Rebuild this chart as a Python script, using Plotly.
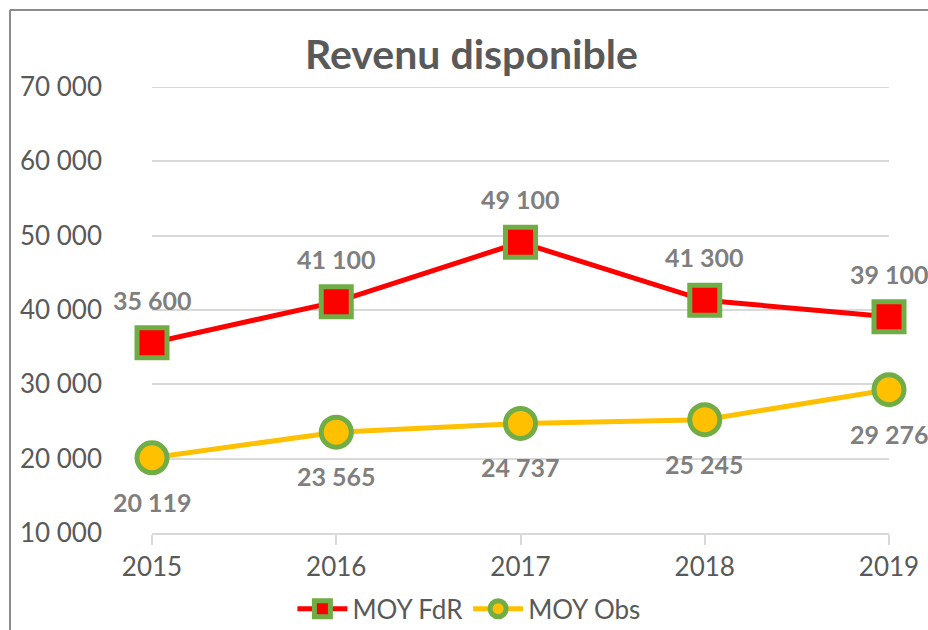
import plotly.graph_objects as go

years = [2015, 2016, 2017, 2018, 2019]
moy_fdr = [35600, 41100, 49100, 41300, 39100]
moy_obs = [20119, 23565, 24737, 25245, 29276]
y_ticks = [10000, 20000, 30000, 40000, 50000, 60000, 70000]
y_tick_labels = ["10 000", "20 000", "30 000", "40 000", "50 000", "60 000", "70 000"]

def fmt(v):
    return f"{v:,}".replace(",", " ")

FONT = "Lato, 'Open Sans', sans-serif"
GRAY = "#595959"
LABEL = "#7f7f7f"

fig = go.Figure()
fig.add_trace(go.Scatter(
    x=years, y=moy_fdr, name="MOY FdR", mode="lines+markers",
    line=dict(color="#FF0000", width=5),
    marker=dict(symbol="square", size=30, color="#FF0000",
                line=dict(color="#70AD47", width=5)),
    cliponaxis=False,
))
fig.add_trace(go.Scatter(
    x=years, y=moy_obs, name="MOY Obs", mode="lines+markers",
    line=dict(color="#FFC000", width=5),
    marker=dict(symbol="circle", size=30, color="#FFC000",
                line=dict(color="#70AD47", width=5)),
    cliponaxis=False,
))

for x, v in zip(years, moy_fdr):
    fig.add_annotation(x=x, y=v, text=f"<b>{fmt(v)}</b>", showarrow=False,
                       yshift=43, font=dict(family=FONT, size=25, color=LABEL))
for x, v in zip(years, moy_obs):
    fig.add_annotation(x=x, y=v, text=f"<b>{fmt(v)}</b>", showarrow=False,
                       yshift=-44, font=dict(family=FONT, size=25, color=LABEL))

fig.update_layout(
    width=928, height=630,
    margin=dict(l=152, r=39, t=87, b=97, autoexpand=False),
    paper_bgcolor="white", plot_bgcolor="white",
    title=dict(text="<b>Revenu disponible</b>", x=0.508, xanchor="center",
               y=0.913, yanchor="middle",
               font=dict(family=FONT, size=41, color=GRAY)),
    font=dict(family=FONT, color=GRAY),
    showlegend=True,
    legend=dict(orientation="h", x=0.43, xanchor="center", y=-0.17, yanchor="middle",
                font=dict(family=FONT, size=26, color=GRAY),
                itemwidth=50, tracegroupgap=0),
    xaxis=dict(range=[2015, 2019], tickmode="array", tickvals=years,
               ticktext=[str(y) for y in years], automargin=False,
               showgrid=False, zeroline=False,
               showline=True, linecolor="#d9d9d9", linewidth=2,
               ticks="outside", ticklen=10, tickcolor="#d9d9d9", tickwidth=2,
               tickfont=dict(family=FONT, size=26, color=GRAY)),
    yaxis=dict(range=[10000, 70000], tickmode="array", tickvals=y_ticks,
               ticktext=y_tick_labels, showgrid=True, gridcolor="#d9d9d9",
               gridwidth=2, zeroline=False, showline=False, ticks="",
               automargin=False, ticklabelstandoff=49,
               tickfont=dict(family=FONT, size=26, color=GRAY)),
)

# top gridline at the axis maximum (not drawn by plotly at the range edge)
fig.add_shape(type="line", xref="paper", yref="y", x0=0, x1=1,
              y0=y_ticks[-1], y1=y_ticks[-1], layer="below",
              line=dict(color="#d9d9d9", width=2))

# outer chart frame (top and left edges)
fig.add_shape(type="line", xref="paper", yref="paper",
              x0=-142/737, x1=1.2, y0=(533-10)/446, y1=(533-10)/446,
              line=dict(color="#8c8c8c", width=2))
fig.add_shape(type="line", xref="paper", yref="paper",
              x0=-142/737, x1=-142/737, y0=(533-10)/446, y1=-0.3,
              line=dict(color="#8c8c8c", width=2))

fig.write_html("out.html", config={"displayModeBar": False},
               post_script="document.body.style.margin='0px';")
